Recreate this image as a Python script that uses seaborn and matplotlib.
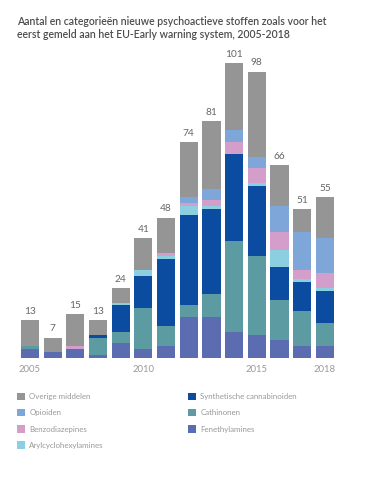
import numpy as np
import pandas as pd
import matplotlib
matplotlib.use("Agg")
import matplotlib.pyplot as plt
import seaborn as sns
from matplotlib.patches import Patch

# data (number of new substances per category, per year)
years = [str(y) for y in range(2005, 2019)]
fenethylamines = [3, 2, 3, 1, 5, 3, 4, 14, 14, 9, 8, 6, 4, 4]
cathinonen = [1, 0, 0, 6, 4, 14, 7, 4, 8, 31, 27, 14, 12, 8]
synth_cannabinoiden = [0, 0, 0, 1, 9, 11, 23, 31, 29, 30, 24, 11, 10, 11]
arylcyclohexylamines = [0, 0, 0, 0, 1, 2, 1, 3, 1, 0, 1, 6, 1, 1]
benzodiazepines = [0, 0, 1, 0, 0, 0, 1, 1, 2, 4, 5, 6, 3, 5]
opioiden = [0, 0, 0, 0, 0, 0, 0, 2, 4, 4, 4, 9, 13, 12]
overige = [9, 5, 11, 5, 5, 11, 12, 19, 23, 23, 29, 14, 8, 14]

# bottom -> top
layers = [
    ("Fenethylamines", fenethylamines, "#5b6cb1"),
    ("Cathinonen", cathinonen, "#5c9ba1"),
    ("Synthetische cannabinoiden", synth_cannabinoiden, "#0c4ca0"),
    ("Arylcyclohexylamines", arylcyclohexylamines, "#8ccfe1"),
    ("Benzodiazepines", benzodiazepines, "#d39fca"),
    ("Opioiden", opioiden, "#7fa6d8"),
    ("Overige middelen", overige, "#959595"),
]

df = pd.DataFrame({name: vals for name, vals, _ in layers}, index=years)
cum = df.cumsum(axis=1)
totals = df.sum(axis=1)

sns.set_style("white")
plt.rcParams["font.family"] = ["Lato", "DejaVu Sans"]

fig = plt.figure(figsize=(3.67, 4.78), dpi=100)
ax = fig.add_axes([18.6 / 367, 120 / 478, 317.6 / 367, 110 * 2.92 / 478])

# stacked bars: draw cumulative totals from the top layer down
for name, _, color in reversed(layers):
    sns.barplot(x=years, y=cum[name].values, color=color, width=0.8,
                linewidth=0, saturation=1, ax=ax)

for i, t in enumerate(totals):
    ax.text(i, t + 1.5, str(t), ha="center", va="bottom", fontsize=7.3, color="#666666")

ax.set_xlim(-0.5, 13.5)
ax.set_ylim(0, 110)
ax.set_yticks([])
ax.set_xticks([0, 5, 10, 13])
ax.set_xticklabels(["2005", "2010", "2015", "2018"], fontsize=6.8, color="#999999")
ax.tick_params(axis="x", length=0, pad=5)
ax.set_xlabel("")
ax.set_ylabel("")
sns.despine(ax=ax, left=True, bottom=True)

fig.text(17 / 367, 1 - 16 / 478,
         "Aantal en categorieën nieuwe psychoactieve stoffen zoals voor het\n"
         "eerst gemeld aan het EU-Early warning system, 2005-2018",
         ha="left", va="top", fontsize=7.6, color="#4d4d4d", fontweight="semibold",
         linespacing=1.2)

# legend in two columns
left_names = ["Overige middelen", "Opioiden", "Benzodiazepines", "Arylcyclohexylamines"]
right_names = ["Synthetische cannabinoiden", "Cathinonen", "Fenethylamines"]
colors = {name: c for name, _, c in layers}
for names, xpos in [(left_names, 17), (right_names, 188)]:
    handles = [Patch(facecolor=colors[n], edgecolor="none", label=n) for n in names]
    fig.legend(handles=handles, loc="upper left", bbox_to_anchor=(xpos / 367, 1 - 393 / 478),
               frameon=False, fontsize=5.7, labelcolor="#999999", handlelength=1.05,
               handleheight=1.05, handletextpad=0.5, labelspacing=1.1,
               borderpad=0, borderaxespad=0)

fig.savefig("out.png", dpi=100, facecolor="white")
